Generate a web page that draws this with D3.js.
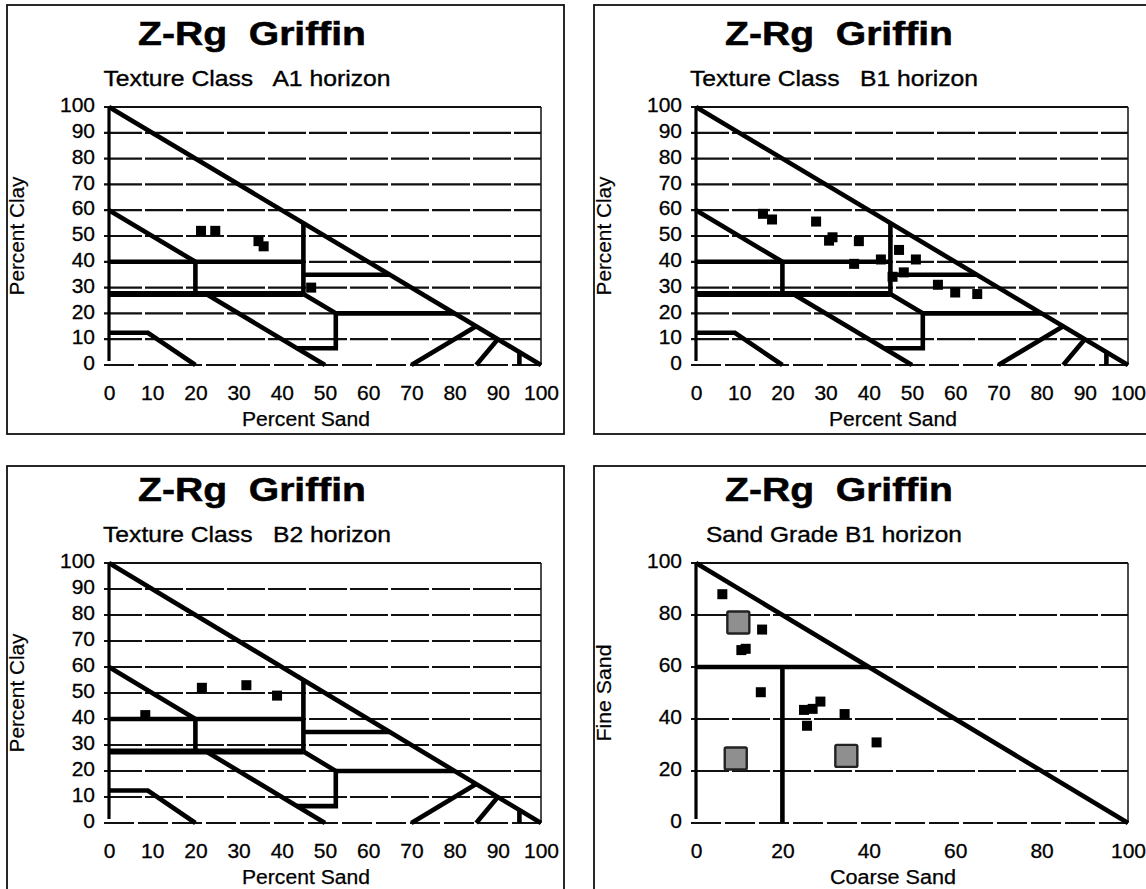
<!DOCTYPE html>
<html><head><meta charset="utf-8">
<script src="https://cdn.jsdelivr.net/npm/d3@7"></script>
<style>
html,body{margin:0;padding:0;background:#fff;}
svg text{font-family:Arial,"Liberation Sans",sans-serif;fill:#000;}
</style></head><body>
<svg id="chart" width="1146" height="889"></svg>
<script>
// ---------------- data ----------------
const chartTitle = "Z-Rg  Griffin";
const subtitleA1 = "Texture Class   A1 horizon";
const subtitleB1 = "Texture Class   B1 horizon";
const subtitleB2 = "Texture Class   B2 horizon";
const subtitleSG = "Sand Grade B1 horizon";
const textureXLabel = "Percent Sand";
const textureYLabel = "Percent Clay";
const sandGradeXLabel = "Coarse Sand";
const sandGradeYLabel = "Fine Sand";

const textureTicks = [0, 10, 20, 30, 40, 50, 60, 70, 80, 90, 100];
const sandGradeTicks = [0, 20, 40, 60, 80, 100];

// texture class boundaries (percent sand, percent clay)
const textureBoundaries = [
  [[0, 100], [100, 0]],
  [[0, 60], [20, 40]],
  [[0, 40], [45, 40]],
  [[20, 40], [20, 27.5]],
  [[45, 55], [45, 27.5]],
  [[45, 35], [65, 35]],
  [[45, 27.5], [52.5, 20], [52.5, 6.5], [43.5, 6.5]],
  [[52.5, 20], [80, 20]],
  [[22.5, 27.5], [50, 0]],
  [[0, 12.5], [9, 12.5], [20, 0]],
  [[70, 0], [85, 15]],
  [[85, 0], [90, 10]],
  [[95, 0], [95, 5]]
];
const textureDoubleLine = [[0, 27.5], [45, 27.5]];

// sand grade boundaries (coarse sand, fine sand)
const sandGradeBoundaries = [
  [[0, 100], [100, 0]],
  [[0, 60], [40, 60]],
  [[20, 60], [20, 0]]
];

// A1 horizon samples
const a1Sand = [21.3, 24.6, 34.6, 35.8, 46.8];
const a1Clay = [52, 52, 48, 46, 30];

// B1 horizon samples
const b1Sand = [15.5, 17.6, 27.8, 30.8, 31.6, 37.7, 36.6, 42.8, 47, 50.9, 48.1, 45.5, 56, 60, 65.1];
const b1Clay = [58.6, 56.4, 55.6, 48.2, 49.5, 48, 39.2, 40.9, 44.6, 40.9, 35.9, 34.2, 31.1, 28.1, 27.5];

// B2 horizon samples
const b2Sand = [8.4, 21.5, 31.8, 38.9];
const b2Clay = [41.5, 52, 53, 49];

// sand grade B1 samples
const sgCoarse = [6.1, 15.3, 10.5, 11.5, 15, 25, 27, 28.8, 25.7, 34.4, 41.8];
const sgFine = [88, 74.4, 66.5, 67, 50.3, 43.5, 43.9, 46.7, 37.4, 41.9, 31];
// sand grade reference markers (large grey squares)
const sgRefCoarse = [9.8, 9.2, 34.8];
const sgRefFine = [77.1, 24.8, 25.8];

// ---------------- layout ----------------
const panels = [
  {fx: 7,   fy: 5,   top: 107, bottom: 365, kind: "texture", sub: subtitleA1, subLen: 287, xs: a1Sand, ys: a1Clay},
  {fx: 594, fy: 5,   top: 107, bottom: 365, kind: "texture", sub: subtitleB1, subLen: 288, xs: b1Sand, ys: b1Clay},
  {fx: 7,   fy: 466, top: 563, bottom: 823, kind: "texture", sub: subtitleB2, subLen: 288, xs: b2Sand, ys: b2Clay},
  {fx: 594, fy: 466, top: 563, bottom: 823, kind: "grade",   sub: subtitleSG, subLen: 256, xs: sgCoarse, ys: sgFine}
];

const svg = d3.select("#chart");
const line = d3.line();
const FONT = "Arial, 'Liberation Sans', sans-serif";

panels.forEach(p => {
  const g = svg.append("g");
  const left = p.fx + 102, right = p.fx + 534;
  const x = d3.scaleLinear().domain([0, 100]).range([left, right]);
  const y = d3.scaleLinear().domain([0, 100]).range([p.bottom, p.top]);
  const isTex = p.kind === "texture";
  const ticks = isTex ? textureTicks : sandGradeTicks;

  // frame
  g.append("rect").attr("x", p.fx).attr("y", p.fy).attr("width", 557).attr("height", 429)
    .attr("fill", "none").attr("stroke", "#111").attr("stroke-width", 1.8);

  // title and subtitle
  g.append("text").attr("x", left + 143).attr("y", p.top - 62)
    .attr("text-anchor", "middle").attr("font-size", 33).attr("font-weight", "bold")
    .attr("textLength", 228).attr("lengthAdjust", "spacingAndGlyphs")
    .attr("stroke", "#000").attr("stroke-width", 0.5)
    .style("white-space", "pre").text(chartTitle);
  g.append("text").attr("x", left + 138).attr("y", p.top - 21)
    .attr("text-anchor", "middle").attr("font-size", 22)
    .attr("textLength", p.subLen).attr("lengthAdjust", "spacingAndGlyphs")
    .attr("stroke", "#000").attr("stroke-width", 0.35)
    .style("white-space", "pre").text(p.sub);

  // gridlines
  const inner = ticks.filter(t => t > 0 && t < 100);
  g.selectAll(".grid").data(inner).join("line")
    .attr("x1", x(0) - 5).attr("x2", x(100))
    .attr("y1", d => y(d)).attr("y2", d => y(d))
    .attr("stroke", "#111").attr("stroke-width", 2.2).attr("stroke-dasharray", "38,3");
  // top line and bottom line
  g.append("line").attr("x1", x(0) - 5).attr("x2", x(100)).attr("y1", y(100)).attr("y2", y(100))
    .attr("stroke", "#111").attr("stroke-width", 1.8);
  g.append("line").attr("x1", x(0) - 5).attr("x2", x(100)).attr("y1", y(0)).attr("y2", y(0))
    .attr("stroke", "#111").attr("stroke-width", 2.2).attr("stroke-dasharray", "30,4");
  // right border
  g.append("line").attr("x1", x(100)).attr("x2", x(100)).attr("y1", y(0)).attr("y2", y(100))
    .attr("stroke", "#111").attr("stroke-width", 1.5);
  // left axis
  g.append("line").attr("x1", x(0)).attr("x2", x(0)).attr("y1", y(0) - 4).attr("y2", y(100))
    .attr("stroke", "#000").attr("stroke-width", 3.2);

  // tick labels via d3 axes
  const ya = d3.axisLeft(y).tickValues(ticks).tickSize(0).tickPadding(14).tickFormat(d3.format("d"));
  const ga = g.append("g").attr("transform", `translate(${x(0)},0)`).call(ya);
  ga.select(".domain").remove();
  ga.selectAll("text").attr("font-size", 21).attr("dy", "0.22em")
    .attr("font-family", FONT).attr("fill", "#000").attr("stroke", "#000").attr("stroke-width", 0.3);
  const xa = d3.axisBottom(x).tickValues(ticks).tickSize(0).tickPadding(20).tickFormat(d3.format("d"));
  const gx = g.append("g").attr("transform", `translate(0,${y(0)})`).call(xa);
  gx.select(".domain").remove();
  gx.selectAll("text").attr("font-size", 21)
    .attr("font-family", FONT).attr("fill", "#000").attr("stroke", "#000").attr("stroke-width", 0.3);

  // axis titles
  g.append("text").attr("x", left + 197).attr("y", p.bottom + 61)
    .attr("text-anchor", "middle").attr("font-size", 20)
    .attr("textLength", isTex ? 128 : 126).attr("lengthAdjust", "spacingAndGlyphs")
    .attr("stroke", "#000").attr("stroke-width", 0.25)
    .text(isTex ? textureXLabel : sandGradeXLabel);
  const cy = (p.top + p.bottom) / 2;
  g.append("text").attr("transform", `translate(${p.fx + 17},${cy}) rotate(-90)`)
    .attr("text-anchor", "middle").attr("font-size", 20)
    .attr("textLength", isTex ? 119 : 97).attr("lengthAdjust", "spacingAndGlyphs")
    .attr("stroke", "#000").attr("stroke-width", 0.2)
    .text(isTex ? textureYLabel : sandGradeYLabel);

  // boundaries
  const bounds = isTex ? textureBoundaries : sandGradeBoundaries;
  g.selectAll(".bound").data(bounds).join("path")
    .attr("d", d => line(d.map(q => [x(q[0]), y(q[1])])))
    .attr("fill", "none").attr("stroke", "#000").attr("stroke-width", 4.6)
    .attr("stroke-linejoin", "miter");
  if (isTex) {
    g.append("path").attr("d", line(textureDoubleLine.map(q => [x(q[0]), y(q[1])])))
      .attr("fill", "none").attr("stroke", "#000").attr("stroke-width", 6);
  }

  // points
  const pts = p.xs.map((v, i) => [v, p.ys[i]]);
  g.selectAll(".pt").data(pts).join("rect")
    .attr("x", d => x(d[0]) - 5).attr("y", d => y(d[1]) - 5)
    .attr("width", 10).attr("height", 10).attr("fill", "#000");
  if (!isTex) {
    const refs = sgRefCoarse.map((v, i) => [v, sgRefFine[i]]);
    g.selectAll(".ref").data(refs).join("rect")
      .attr("x", d => x(d[0]) - 11).attr("y", d => y(d[1]) - 11)
      .attr("width", 22).attr("height", 22).attr("rx", 1.5)
      .attr("fill", "#8f8f8f").attr("stroke", "#222").attr("stroke-width", 2.4);
  }
});
</script>
</body></html>
